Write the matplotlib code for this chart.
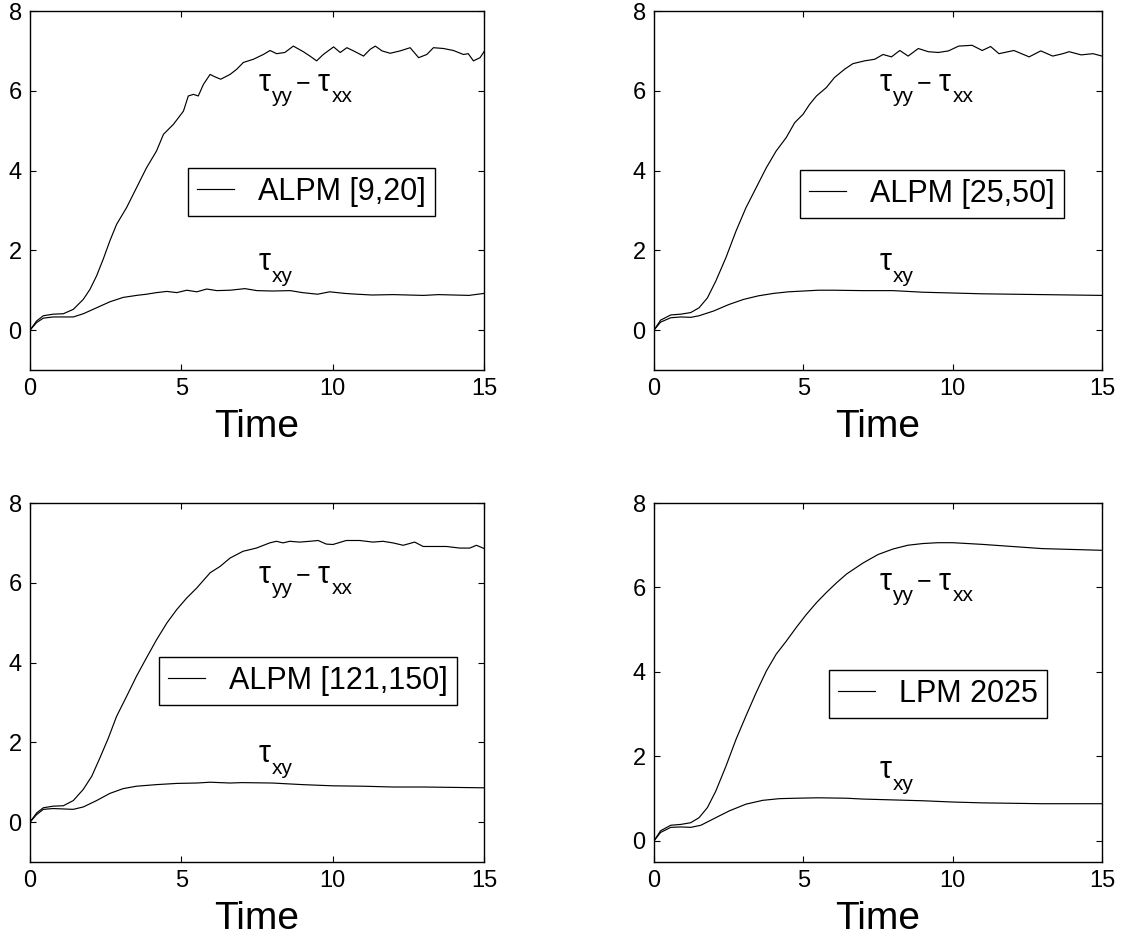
import matplotlib
matplotlib.use("Agg")
import matplotlib.pyplot as plt

plt.rcParams['font.family'] = ['Liberation Sans', 'DejaVu Sans']

# ---- data ----
# panel 1: ALPM [9,20]
t_n1 = [0, 0.22, 0.44, 0.77, 1.1, 1.43, 1.76, 1.98, 2.2, 2.42, 2.64, 2.86, 3.19, 3.52,
        3.85, 4.18, 4.41, 4.74, 5.07, 5.23, 5.4, 5.56, 5.73, 5.95, 6.11, 6.3, 6.61,
        6.83, 7.05, 7.38, 7.71, 7.93, 8.15, 8.42, 8.7, 9.03, 9.25, 9.47, 9.69, 10.03,
        10.25, 10.47, 10.69, 11.02, 11.24, 11.41, 11.63, 11.9, 12.23, 12.56, 12.84,
        13.11, 13.33, 13.66, 13.99, 14.32, 14.48, 14.65, 14.87, 15.0]
n1 = [0, 0.23, 0.36, 0.40, 0.41, 0.52, 0.77, 1.02, 1.36, 1.78, 2.24, 2.65, 3.07, 3.57,
      4.07, 4.49, 4.91, 5.16, 5.49, 5.87, 5.91, 5.87, 6.16, 6.41, 6.35, 6.29, 6.41,
      6.54, 6.71, 6.79, 6.91, 7.01, 6.93, 6.96, 7.12, 6.98, 6.87, 6.75, 6.91, 7.10,
      6.96, 7.08, 7.00, 6.87, 7.04, 7.12, 7.00, 6.94, 7.00, 7.08, 6.83,
      6.91, 7.08, 7.06, 7.01, 6.91, 6.93, 6.75, 6.83, 6.98]
t_s1 = [0, 0.22, 0.44, 0.77, 1.1, 1.43, 1.76, 2.2, 2.64, 3.08, 3.52, 3.85, 4.18, 4.52,
        4.85, 5.18, 5.51, 5.84, 6.17, 6.61, 7.1, 7.5, 8.0, 8.6, 9.0, 9.5, 9.9, 10.4,
        10.8, 11.3, 12.0, 12.5, 13.0, 13.5, 14.0, 14.5, 15.0]
s1 = [0, 0.19, 0.30, 0.33, 0.33, 0.33, 0.41, 0.56, 0.71, 0.82, 0.87, 0.90, 0.94, 0.97,
      0.94, 1.00, 0.96, 1.03, 0.99, 1.00, 1.04, 0.99, 0.98, 0.99, 0.94, 0.90, 0.96, 0.92,
      0.90, 0.88, 0.89, 0.88, 0.87, 0.89, 0.88, 0.87, 0.92]

# panel 2: ALPM [25,50]
t_n2 = [0, 0.22, 0.56, 0.9, 1.23, 1.51, 1.79, 2.07, 2.41, 2.75, 3.08, 3.42, 3.76, 4.09,
        4.43, 4.71, 4.99, 5.21, 5.44, 5.77, 6.04, 6.38, 6.66, 7.05, 7.39, 7.67, 7.95,
        8.23, 8.51, 8.85, 9.18, 9.52, 9.86, 10.2, 10.65, 10.99, 11.27, 11.55, 12.05,
        12.56, 12.95, 13.35, 13.69, 13.9, 14.3, 14.7, 15.0]
n2 = [0, 0.25, 0.38, 0.40, 0.44, 0.56, 0.81, 1.23, 1.82, 2.49, 3.07, 3.57, 4.07, 4.49,
      4.83, 5.20, 5.41, 5.66, 5.87, 6.08, 6.33, 6.54, 6.68, 6.75, 6.79, 6.91, 6.85,
      7.01, 6.87, 7.06, 6.98, 6.96, 7.00, 7.12, 7.14, 7.01, 7.11, 6.93, 7.01,
      6.85, 7.00, 6.87, 6.93, 6.98, 6.90, 6.93, 6.87]
t_s2 = [0, 0.22, 0.56, 0.9, 1.23, 1.51, 2.0, 2.5, 3.0, 3.5, 4.0, 4.5, 5.0, 5.5, 6.0,
        7.0, 8.0, 9.0, 10.0, 11.0, 12.0, 13.0, 14.0, 15.0]
s2 = [0, 0.20, 0.31, 0.33, 0.32, 0.36, 0.48, 0.64, 0.77, 0.86, 0.92, 0.96, 0.98, 1.0,
      1.0, 0.99, 0.99, 0.95, 0.93, 0.91, 0.90, 0.89, 0.88, 0.87]

# panel 3: ALPM [121,150]
t_n3 = [0, 0.22, 0.44, 0.77, 1.1, 1.43, 1.76, 2.04, 2.31, 2.59, 2.86, 3.19, 3.52, 3.85,
        4.18, 4.52, 4.85, 5.18, 5.51, 5.95, 6.28, 6.61, 7.04, 7.48, 7.92, 8.14, 8.36,
        8.58, 8.91, 9.24, 9.52, 9.79, 10.01, 10.45, 10.89, 11.33, 11.66, 11.99, 12.33,
        12.71, 12.99, 13.32, 13.76, 14.2, 14.53, 14.75, 15.0]
n3 = [0, 0.23, 0.36, 0.40, 0.41, 0.54, 0.82, 1.15, 1.61, 2.11, 2.65, 3.15, 3.66, 4.12,
      4.57, 4.99, 5.33, 5.62, 5.87, 6.25, 6.41, 6.62, 6.79, 6.87, 7.00, 7.04, 7.00,
      7.04, 7.02, 7.04, 7.06, 6.97, 6.96, 7.06, 7.06, 7.02, 7.04, 7.00, 6.94,
      7.02, 6.91, 6.91, 6.91, 6.87, 6.87, 6.94, 6.86]
t_s3 = [0, 0.22, 0.44, 0.77, 1.1, 1.43, 1.76, 2.2, 2.64, 3.08, 3.52, 4.18, 4.85, 5.51,
        5.95, 6.61, 7.0, 8.0, 9.0, 10.0, 11.0, 12.0, 13.0, 14.0, 15.0]
s3 = [0, 0.19, 0.32, 0.34, 0.33, 0.32, 0.38, 0.54, 0.72, 0.84, 0.90, 0.94, 0.97, 0.98,
      1.0, 0.98, 0.99, 0.98, 0.94, 0.91, 0.90, 0.88, 0.88, 0.87, 0.86]

# panel 4: LPM 2025
t_n4 = [0, 0.22, 0.56, 0.9, 1.23, 1.51, 1.79, 2.07, 2.41, 2.75, 3.08, 3.42, 3.76, 4.09,
        4.43, 4.76, 5.1, 5.44, 5.77, 6.11, 6.45, 7.0, 7.5, 8.0, 8.5, 9.0, 9.5, 10.0,
        11.0, 12.0, 13.0, 14.0, 15.0]
n4 = [0, 0.24, 0.37, 0.39, 0.43, 0.55, 0.79, 1.18, 1.77, 2.41, 2.96, 3.51, 4.02, 4.42,
      4.73, 5.05, 5.36, 5.64, 5.88, 6.11, 6.32, 6.58, 6.78, 6.91, 7.0, 7.04, 7.06, 7.06,
      7.02, 6.97, 6.92, 6.90, 6.88]
t_s4 = [0, 0.22, 0.56, 0.9, 1.23, 1.57, 2.07, 2.52, 3.08, 3.64, 4.2, 4.76, 5.5, 6.45,
        7.0, 8.0, 9.0, 10.0, 11.0, 12.0, 13.0, 14.0, 15.0]
s4 = [0, 0.20, 0.32, 0.33, 0.32, 0.37, 0.55, 0.71, 0.87, 0.96, 1.0, 1.01, 1.02, 1.01,
      0.99, 0.97, 0.95, 0.92, 0.90, 0.89, 0.88, 0.88, 0.88]

legend_names = ["ALPM [9,20]", "ALPM [25,50]", "ALPM [121,150]", "LPM 2025"]
ymins = [-1, -1, -1, -0.5]
series = [(t_n1, n1, t_s1, s1), (t_n2, n2, t_s2, s2),
          (t_n3, n3, t_s3, s3), (t_n4, n4, t_s4, s4)]

# axes rectangles in pixels: left, top, right, bottom
W, H = 1136, 942
rects = [(30, 11, 484, 370), (654, 11, 1102, 370),
         (30, 503, 484, 862), (654, 503, 1102, 862)]
# legend frame top-left corner in pixels
leg_px = [(188, 168), (800, 170), (159, 657), (829, 670)]


def stress_label(ax, x, y, pieces):
    # tau with lowered subscripts, offsets in pixels from the tau baseline
    for txt, dx, dy, fs in pieces:
        ax.annotate(txt, (x, y), xytext=(dx, dy), textcoords='offset pixels',
                    fontsize=fs, ha='left', va='baseline')


fig = plt.figure(figsize=(W / 100, H / 100), dpi=100)

for i in range(4):
    l, t, r, b = rects[i]
    tn, n, ts, s = series[i]
    ax = fig.add_axes([l / W, 1 - b / H, (r - l) / W, (b - t) / H])
    ax.plot(tn, n, color='k', lw=0.85, label=legend_names[i])
    ax.plot(ts, s, color='k', lw=0.85)
    ax.set_xlim(0, 15)
    ax.set_ylim(ymins[i], 8)
    ax.set_xticks([0, 5, 10, 15])
    ax.set_yticks([0, 2, 4, 6, 8])
    ax.tick_params(direction='in', length=4, width=0.8, top=True, right=True,
                   labelsize=17, pad=6)
    for sp in ax.spines.values():
        sp.set_linewidth(1.0)
    ax.set_xlabel("Time", fontsize=28, labelpad=6)

    y_up = 6.0 if ymins[i] == -1 else 5.95
    stress_label(ax, 7.55, y_up, [("\u03c4", 0, 0, 22), ("yy", 13, -11, 15),
                                  ("\u2212", 37, 1, 18), ("\u03c4", 59, 0, 22),
                                  ("xx", 73, -11, 15)])
    stress_label(ax, 7.55, 1.5, [("\u03c4", 0, 0, 22), ("xy", 13, -12, 15)])

    lx, ly = leg_px[i]
    anchor = ((lx - l) / (r - l), (b - ly) / (b - t))
    leg = ax.legend(loc='upper left', bbox_to_anchor=anchor, fontsize=22,
                    frameon=True, fancybox=False, framealpha=1, edgecolor='k',
                    borderpad=0.3, handlelength=1.2, handletextpad=0.8,
                    borderaxespad=0)
    leg.get_frame().set_linewidth(1.0)

fig.savefig("out.png", dpi=100)
